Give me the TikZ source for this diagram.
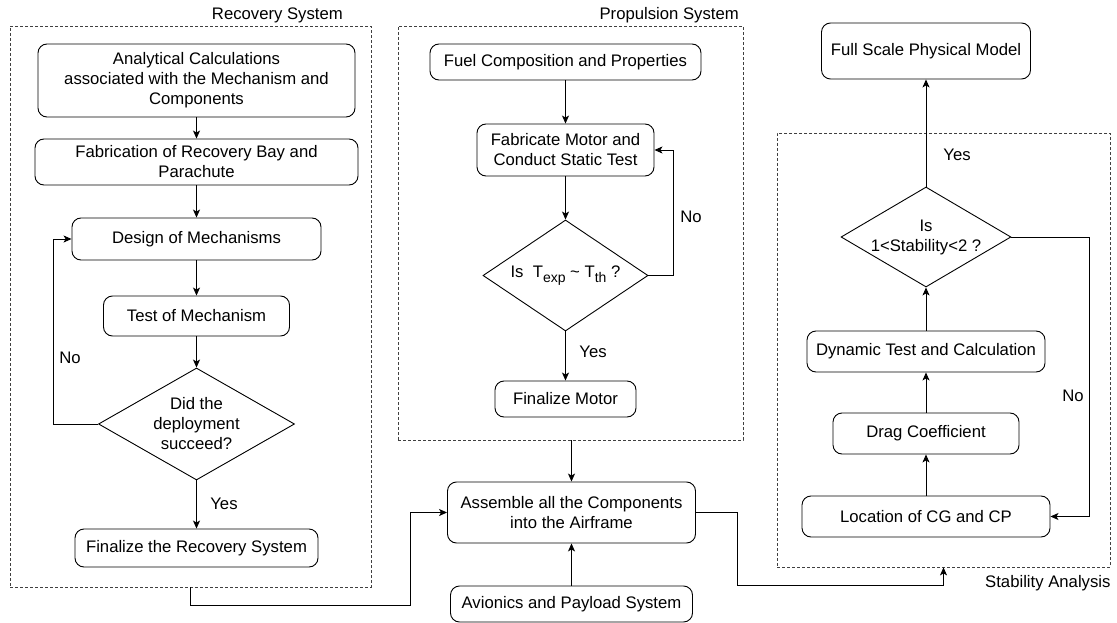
\documentclass[tikz,border=0pt]{standalone}
\usepackage{fontspec}
\setmainfont{Liberation Sans}
\usetikzlibrary{shapes.geometric,arrows.meta}
\newcommand{\lowsub}[1]{\raisebox{-4.5pt}{\fontsize{14}{14}\selectfont #1}}
\begin{document}
\begin{tikzpicture}[x=1pt,y=-1pt,
  every node/.style={font=\fontsize{16.7}{20}\selectfont},
  stepbox/.style={draw, rounded corners=9pt, align=center, inner sep=0pt, line width=0.9pt},
  decision/.style={draw, diamond, align=center, inner sep=0pt, aspect=1.7, line width=0.9pt},
  group/.style={draw=black!75, dash pattern=on 3pt off 2pt, line width=0.8pt, inner sep=0pt},
  arr/.style={draw, line width=0.9pt, -{Stealth[length=8pt,width=7pt,inset=2pt]}},
  lbl/.style={inner sep=0pt}]
\useasboundingbox (0,0) rectangle (1117,623);

% dashed subsystem frames
\node[group, minimum width=361pt, minimum height=561pt] (recgrp) at (190.5,306.5) {};
\node[group, minimum width=345pt, minimum height=414pt] (propgrp) at (570.5,233) {};
\node[group, minimum width=333pt, minimum height=434pt] (stabgrp) at (943.5,350) {};
\node[lbl, anchor=east] (reclbl) at (343,15) {Recovery System};
\node[lbl, anchor=east] (proplbl) at (739,15) {Propulsion System};
\node[lbl, anchor=west] (stablbl) at (985,583) {Stability Analysis};

% recovery system
\node[stepbox, minimum width=317pt, minimum height=73pt] (ana) at (196.5,80.5)
  {Analytical Calculations\\associated with the Mechanism and\\Components};
\node[stepbox, minimum width=323pt, minimum height=46pt] (fab) at (196.5,162)
  {Fabrication of Recovery Bay and\\Parachute};
\node[stepbox, minimum width=249pt, minimum height=42pt] (des) at (196.5,239) {Design of Mechanisms};
\node[stepbox, minimum width=186pt, minimum height=40pt] (tst) at (196.5,316) {Test of Mechanism};
\node[decision, minimum width=196pt, minimum height=112pt] (dec1) at (196.5,424)
  {Did the\\deployment\\succeed?};
\node[stepbox, minimum width=243pt, minimum height=38pt] (finr) at (196.5,548) {Finalize the Recovery System};

\draw[arr] (ana) -- (fab);
\draw[arr] (fab) -- (des);
\draw[arr] (des) -- (tst);
\draw[arr] (tst) -- (dec1);
\draw[arr] (dec1) -- (finr);
\coordinate (recno) at (53,424);
\draw[arr] (dec1.west) -- (recno) |- (des.west);
\node[lbl] (recnolbl) at (70,358) {No};
\node[lbl] (recyeslbl) at (224,504) {Yes};

% propulsion system
\node[stepbox, minimum width=271pt, minimum height=36pt] (fuel) at (565.5,62) {Fuel Composition and Properties};
\node[stepbox, minimum width=177pt, minimum height=52pt] (fabm) at (565.5,150)
  {Fabricate Motor and\\Conduct Static Test};
\node[decision, minimum width=165pt, minimum height=111pt] (dec2) at (565.5,275.5)
  {Is\ \ T\lowsub{exp} \textasciitilde{} T\lowsub{th} ?};
\node[stepbox, minimum width=141pt, minimum height=36pt] (finm) at (565.5,399) {Finalize Motor};

\draw[arr] (fuel) -- (fabm);
\draw[arr] (fabm) -- (dec2);
\draw[arr] (dec2) -- (finm);
\coordinate (propno) at (673,275.5);
\draw[arr] (dec2.east) -- (propno) |- (fabm.east);
\node[lbl] (propnolbl) at (691,217) {No};
\node[lbl] (propyeslbl) at (593,352) {Yes};

% assembly
\node[stepbox, minimum width=248pt, minimum height=61pt] (asm) at (571.5,512.5)
  {Assemble all the Components\\into the Airframe};
\node[stepbox, minimum width=242pt, minimum height=36pt] (avi) at (571.5,604) {Avionics and Payload System};

\draw[arr] (propgrp.south -| asm.north) -- (asm.north);
\draw[arr] (avi) -- (asm);
\coordinate (j1) at (410,605);
\draw[arr] (recgrp.south) |- (j1) |- (asm.west);
\coordinate (j2) at (737,585);
\draw[arr] (asm.east) -| (j2) -| (stabgrp.south);

% stability analysis
\node[stepbox, minimum width=209pt, minimum height=56pt] (full) at (926,51) {Full Scale Physical Model};
\node[decision, minimum width=165pt, minimum height=100pt] (dec3) at (926,237)
  {Is\\1<Stability<2 ?};
\node[stepbox, minimum width=238pt, minimum height=41pt] (dyn) at (926,351.5) {Dynamic Test and Calculation};
\node[stepbox, minimum width=186pt, minimum height=41pt] (drag) at (926,433.5) {Drag Coefficient};
\node[stepbox, minimum width=248pt, minimum height=41pt] (loc) at (926,516.5) {Location of CG and CP};

\draw[arr] (loc) -- (drag);
\draw[arr] (drag) -- (dyn);
\draw[arr] (dyn) -- (dec3);
\draw[arr] (dec3) -- (full);
\coordinate (stabno) at (1089,237);
\draw[arr] (dec3.east) -- (stabno) |- (loc.east);
\node[lbl] (stabnolbl) at (1073,396) {No};
\node[lbl] (stabyeslbl) at (957,155) {Yes};
\end{tikzpicture}
\end{document}
